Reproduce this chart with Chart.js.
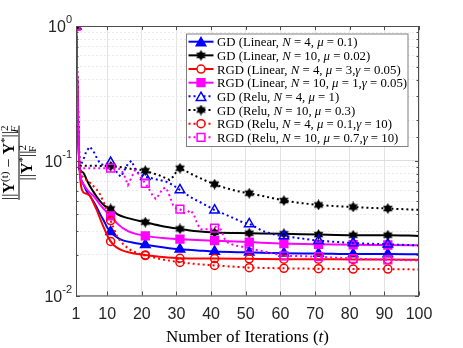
<!DOCTYPE html>
<html>
<head>
<meta charset="utf-8">
<script src="https://cdn.jsdelivr.net/npm/chart.js@4.4.1/dist/chart.umd.min.js"></script>
<style>
  html, body { margin: 0; padding: 0; background: #fff; }
  #wrap { width: 463px; height: 348px; }
</style>
</head>
<body>
<div id="wrap"><canvas id="chart" width="463" height="348"></canvas></div>
<script>
// axis ticks
const xTicks = [1, 10, 20, 30, 40, 50, 60, 70, 80, 90, 100];
const yTickValues = [1, 0.1, 0.01];
const yTickExps = ['0', '-1', '-2'];

// [iteration, normalized error]
const gdLin4 = [[1,1],[2,0.09],[3,0.068],[4,0.06],[5,0.055],[6,0.05],[7,0.045],[8,0.04],[9,0.036],[10,0.032],[11,0.0297],[12,0.028],[14,0.026],[17,0.0248],[21,0.0238],[26,0.0228],[31,0.022],[36,0.0216],[41,0.0212],[51,0.0209],[61,0.0206],[71,0.0205],[81,0.0203],[91,0.0203],[100,0.0202]];
const gdLin10 = [[1,1],[2,0.09],[3,0.082],[4,0.073],[5,0.065],[6,0.059],[7,0.054],[8,0.05],[9,0.047],[10,0.045],[11,0.0439],[13,0.04],[16,0.0375],[21,0.035],[26,0.0327],[31,0.0312],[36,0.03],[41,0.0293],[51,0.029],[61,0.0287],[71,0.0283],[81,0.028],[91,0.028],[100,0.0277]];
const rgdLin4 = [[1,1],[2,0.09],[3,0.059],[4,0.057],[5,0.055],[6,0.049],[7,0.043],[8,0.037],[9,0.032],[10,0.028],[11,0.0252],[12,0.0235],[14,0.0218],[17,0.0207],[21,0.02],[26,0.0193],[31,0.0189],[41,0.0188],[51,0.0187],[61,0.0186],[71,0.0186],[81,0.0185],[91,0.0185],[100,0.0184]];
const rgdLin10 = [[1,1],[2,0.09],[3,0.068],[4,0.062],[5,0.058],[6,0.055],[7,0.051],[8,0.047],[9,0.044],[10,0.041],[11,0.039],[13,0.034],[16,0.03],[21,0.0277],[26,0.0267],[31,0.0262],[41,0.0255],[51,0.0249],[61,0.0243],[71,0.024],[81,0.0238],[91,0.0237],[100,0.0236]];
const gdRelu4 = [[1,1],[2,0.09],[3,0.1],[4,0.118],[5,0.127],[6,0.118],[7,0.105],[8,0.095],[9,0.093],[10,0.095],[11,0.097],[12,0.09],[13,0.08],[14,0.076],[15,0.085],[16,0.095],[17,0.1],[18,0.088],[19,0.081],[20,0.078],[21,0.076],[23,0.074],[25,0.072],[27,0.07],[29,0.066],[31,0.0607],[33,0.056],[35,0.052],[37,0.049],[39,0.046],[41,0.043],[43,0.041],[45,0.039],[47,0.037],[49,0.035],[51,0.034],[53,0.032],[55,0.03],[57,0.029],[59,0.028],[61,0.0277],[66,0.0265],[71,0.0255],[76,0.025],[81,0.0245],[86,0.0242],[91,0.024],[100,0.0235]];
const gdRelu10 = [[1,1],[2,0.092],[3,0.092],[5,0.092],[7,0.092],[9,0.091],[11,0.091],[13,0.09],[15,0.089],[17,0.087],[19,0.086],[21,0.0843],[23,0.081],[25,0.078],[27,0.074],[28,0.072],[29,0.076],[30,0.083],[31,0.088],[33,0.083],[35,0.078],[37,0.074],[39,0.07],[41,0.067],[43,0.064],[45,0.062],[47,0.06],[49,0.0585],[51,0.0574],[56,0.054],[61,0.0506],[66,0.0485],[71,0.047],[76,0.046],[81,0.0454],[86,0.0447],[91,0.0442],[100,0.0432]];
const rgdRelu4 = [[1,1],[2,0.09],[3,0.075],[4,0.072],[5,0.069],[6,0.065],[7,0.061],[8,0.056],[9,0.049],[10,0.042],[11,0.036],[12,0.031],[13,0.027],[14,0.025],[15,0.0235],[17,0.0215],[19,0.0205],[21,0.0198],[26,0.0185],[31,0.0176],[36,0.0171],[41,0.0167],[51,0.0161],[61,0.0159],[71,0.0158],[81,0.0157],[91,0.0157],[100,0.0156]];
const rgdRelu10 = [[1,1],[2,0.09],[3,0.088],[5,0.088],[7,0.088],[9,0.088],[11,0.088],[13,0.088],[14,0.086],[15,0.077],[16,0.066],[17,0.075],[18,0.085],[19,0.08],[20,0.073],[21,0.068],[22,0.062],[23,0.056],[24,0.052],[25,0.056],[26,0.062],[27,0.063],[28,0.055],[29,0.047],[30,0.044],[31,0.0437],[32,0.041],[33,0.041],[34,0.043],[35,0.04],[36,0.034],[37,0.031],[38,0.031],[39,0.031],[40,0.031],[41,0.0316],[42,0.034],[43,0.03],[44,0.026],[45,0.0245],[47,0.0235],[49,0.023],[51,0.0224],[56,0.021],[61,0.0197],[66,0.0196],[71,0.0194],[76,0.0191],[81,0.0188],[86,0.0186],[91,0.0184],[100,0.0182]];

const series = [gdLin4, gdLin10, rgdLin4, rgdLin10, gdRelu4, gdRelu10, rgdRelu4, rgdRelu10];
const labels = [
  'GD (Linear, *N* = 4, *μ* = 0.1)',
  'GD (Linear, *N* = 10, *μ* = 0.02)',
  'RGD (Linear, *N* = 4, *μ* = 3,*γ* = 0.05)',
  'RGD (Linear, *N* = 10, *μ* = 1,*γ* = 0.05)',
  'GD (Relu, *N* = 4, *μ* = 1)',
  'GD (Relu, *N* = 10, *μ* = 0.3)',
  'RGD (Relu, *N* = 4, *μ* = 0.1,*γ* = 10)',
  'RGD (Relu, *N* = 10, *μ* = 0.7,*γ* = 10)'
];

const DOT = [2, 3];
const styles = [
  { color: '#0000ff', dash: [], marker: 'triangle', fill: true, r: 5.5 },
  { color: '#000000', dash: [], marker: 'hexagram', fill: true, r: 6 },
  { color: '#ff0000', dash: [], marker: 'circle', fill: false, r: 4 },
  { color: '#ff00ff', dash: [], marker: 'rect', fill: true, r: 5.5 },
  { color: '#0000ff', dash: DOT, marker: 'triangle', fill: false, r: 5.5 },
  { color: '#000000', dash: DOT, marker: 'hexagram', fill: true, r: 6 },
  { color: '#ff0000', dash: DOT, marker: 'circle', fill: false, r: 4 },
  { color: '#ff00ff', dash: DOT, marker: 'rect', fill: false, r: 5.5 }
];

const SERIF = "'Liberation Serif', 'DejaVu Serif', serif";
const SANS = "'Liberation Sans', Arial, sans-serif";

function makeHexagram(color, size) {
  const c = document.createElement('canvas');
  c.width = size; c.height = size;
  const g = c.getContext('2d');
  const r = size / 2, cx = size / 2, cy = size / 2;
  g.fillStyle = color;
  [-Math.PI / 2, Math.PI / 2].forEach(off => {
    g.beginPath();
    for (let k = 0; k < 3; k++) {
      const a = off + k * 2 * Math.PI / 3;
      g.lineTo(cx + r * Math.cos(a), cy + r * Math.sin(a));
    }
    g.closePath();
    g.fill();
  });
  return c;
}
const hexImg = makeHexagram('#000', 11);

function isMajor(v) {
  const l = Math.log10(v);
  return Math.abs(l - Math.round(l)) < 1e-6;
}

// text runs: [text, kind] with kind n / i / b / sup
function fontFor(k, size) {
  if (k === 'i') return `italic ${size}px ${SERIF}`;
  if (k === 'b') return `bold ${size}px ${SERIF}`;
  if (k === 'sup') return `${Math.round(size * 0.7)}px ${SERIF}`;
  return `${size}px ${SERIF}`;
}
function runWidth(ctx, runs, size) {
  let w = 0;
  runs.forEach(([t, k]) => {
    ctx.font = fontFor(k, size);
    w += ctx.measureText(t).width;
  });
  return w;
}
function drawRuns(ctx, runs, x, y, size) {
  let cx = x;
  runs.forEach(([t, k]) => {
    ctx.font = fontFor(k, size);
    const dy = k === 'sup' ? -size * 0.38 : 0;
    ctx.fillText(t, cx, y + dy);
    cx += ctx.measureText(t).width;
  });
}
function parseLabel(s) {
  return s.split('*').map((t, i) => [t, i % 2 ? 'i' : 'n']).filter(r => r[0]);
}

function drawMarker(ctx, st, x, y) {
  ctx.save();
  ctx.setLineDash([]);
  if (st.marker === 'hexagram') {
    ctx.drawImage(hexImg, x - hexImg.width / 2, y - hexImg.height / 2);
    ctx.restore();
    return;
  }
  ctx.strokeStyle = st.color;
  ctx.fillStyle = st.fill ? st.color : '#fff';
  ctx.lineWidth = 1.5;
  ctx.beginPath();
  const r = st.r;
  if (st.marker === 'triangle') {
    for (let k = 0; k < 3; k++) {
      const a = -Math.PI / 2 + k * 2 * Math.PI / 3;
      ctx.lineTo(x + r * Math.cos(a), y + r * Math.sin(a) + r * 0.25);
    }
    ctx.closePath();
  } else if (st.marker === 'circle') {
    ctx.arc(x, y, r, 0, Math.PI * 2);
  } else {
    const s = r * Math.SQRT1_2;
    ctx.rect(x - s, y - s, 2 * s, 2 * s);
  }
  ctx.fill();
  ctx.stroke();
  ctx.restore();
}

const decor = {
  id: 'decor',
  afterDraw(chart) {
    const ctx = chart.ctx;
    const a = chart.chartArea;
    const xs = chart.scales.x, ys = chart.scales.y;
    ctx.save();

    // frame and inward ticks
    ctx.strokeStyle = '#4d4d4d';
    ctx.lineWidth = 1;
    ctx.setLineDash([]);
    ctx.strokeRect(a.left + 0.5, a.top + 0.5, a.right - a.left - 1, a.bottom - a.top);
    ctx.beginPath();
    xTicks.forEach(v => {
      const px = Math.round(xs.getPixelForValue(v)) + 0.5;
      ctx.moveTo(px, a.bottom); ctx.lineTo(px, a.bottom - 4);
      ctx.moveTo(px, a.top); ctx.lineTo(px, a.top + 4);
    });
    ys.ticks.forEach(t => {
      const py = Math.round(ys.getPixelForValue(t.value)) + 0.5;
      const len = isMajor(t.value) ? 4 : 2.5;
      ctx.moveTo(a.left, py); ctx.lineTo(a.left + len, py);
      ctx.moveTo(a.right, py); ctx.lineTo(a.right - len, py);
    });
    ctx.stroke();

    // y tick labels 10^k
    ctx.fillStyle = '#262626';
    ctx.textBaseline = 'alphabetic';
    ctx.textAlign = 'left';
    yTickValues.forEach((v, i) => {
      const py = ys.getPixelForValue(v);
      ctx.font = `11px ${SANS}`;
      const ew = ctx.measureText(yTickExps[i]).width;
      ctx.font = `16px ${SANS}`;
      const bw = ctx.measureText('10').width;
      const right = a.left - 4;
      ctx.fillText('10', right - ew - bw, py + 6);
      ctx.font = `11px ${SANS}`;
      ctx.fillText(yTickExps[i], right - ew, py - 3);
    });

    // x title
    ctx.fillStyle = '#000';
    const xt = [['Number of Iterations (', 'n'], ['t', 'i'], [')', 'n']];
    const xsz = 17;
    const xw = runWidth(ctx, xt, xsz);
    drawRuns(ctx, xt, (a.left + a.right) / 2 - xw / 2, 342, xsz);

    // y title as a fraction, rotated
    ctx.save();
    ctx.translate(19, (a.top + a.bottom) / 2 + 2);
    ctx.rotate(-Math.PI / 2);
    const fs = 16;
    const sub = Math.round(fs * 0.7);
    const num = [['||', 'n'], ['Y', 'b'], ['(t)', 'sup'], [' − ', 'n'], ['Y', 'b'], ['*', 'sup'], ['||', 'n'], ['2', 'sup']];
    const den = [['||', 'n'], ['Y', 'b'], ['*', 'sup'], ['||', 'n'], ['2', 'sup']];
    const nw = runWidth(ctx, num, fs), dw = runWidth(ctx, den, fs);
    drawRuns(ctx, num, -nw / 2, -5, fs);
    ctx.font = `italic ${sub}px ${SERIF}`;
    ctx.fillText('F', nw / 2 - 7, -5 + fs * 0.25);
    drawRuns(ctx, den, -dw / 2, 13, fs);
    ctx.fillText('F', dw / 2 - 7, 13 + fs * 0.25);
    ctx.fillRect(-nw / 2, -0.5, nw, 1);
    ctx.restore();

    // legend box
    const lx = 186, ly = 33.5, lw = 221.5, lh = 112.5;
    ctx.fillStyle = '#fff';
    ctx.fillRect(lx, ly, lw, lh);
    ctx.strokeStyle = '#7f7f7f';
    ctx.lineWidth = 1;
    ctx.strokeRect(lx + 0.5, ly + 0.5, lw, lh);
    labels.forEach((lab, i) => {
      const st = styles[i];
      const ry = 41.7 + i * 13.66;
      ctx.save();
      ctx.strokeStyle = st.color;
      ctx.lineWidth = 2;
      ctx.setLineDash(st.dash);
      ctx.beginPath();
      ctx.moveTo(188.5, ry); ctx.lineTo(213.5, ry);
      ctx.stroke();
      ctx.restore();
      drawMarker(ctx, st, 201, ry);
      ctx.fillStyle = '#000';
      drawRuns(ctx, parseLabel(lab), 217, ry + 4.5, 12.8);
    });
    ctx.restore();
  }
};

const datasets = series.map((d, i) => {
  const st = styles[i];
  return {
    label: labels[i].replace(/\*/g, ''),
    data: d,
    borderColor: st.color,
    backgroundColor: st.fill ? st.color : 'rgba(255,255,255,0)',
    borderWidth: 2,
    borderDash: st.dash,
    cubicInterpolationMode: st.dash.length ? 'default' : 'monotone',
    tension: 0,
    pointStyle: st.marker === 'hexagram' ? hexImg : st.marker,
    pointRadius: ctx => (ctx.parsed && ctx.parsed.x % 10 === 1 ? st.r : 0),
    pointBorderWidth: 1.5,
    pointBorderColor: st.color,
    pointBackgroundColor: st.fill ? st.color : 'rgba(255,255,255,0)',
    order: series.length - i
  };
});

new Chart(document.getElementById('chart'), {
  type: 'line',
  data: { datasets },
  options: {
    responsive: false,
    animation: false,
    layout: { padding: { top: 26, right: 44, left: 0, bottom: 0 } },
    plugins: { legend: { display: false }, tooltip: { enabled: false } },
    scales: {
      x: {
        type: 'linear', min: 1, max: 100,
        afterBuildTicks: s => { s.ticks = xTicks.map(v => ({ value: v })); },
        afterFit: s => { s.height = 52.5; },
        grid: { color: '#e3e3e3', drawTicks: false },
        border: { display: false },
        ticks: {
          padding: 9, color: '#262626', autoSkip: false, maxRotation: 0,
          font: { family: SANS, size: 16 },
          callback: v => String(v)
        }
      },
      y: {
        type: 'logarithmic', min: 0.01, max: 1,
        afterFit: s => { s.width = 76; },
        grid: {
          drawTicks: false,
          color: ctx => (ctx.tick && isMajor(ctx.tick.value) ? '#dedede' : '#ebebeb')
        },
        border: {
          display: false,
          dash: ctx => (ctx.tick && !isMajor(ctx.tick.value) ? [2, 2] : [])
        },
        ticks: { display: false }
      }
    }
  },
  plugins: [decor]
});
</script>
</body>
</html>
